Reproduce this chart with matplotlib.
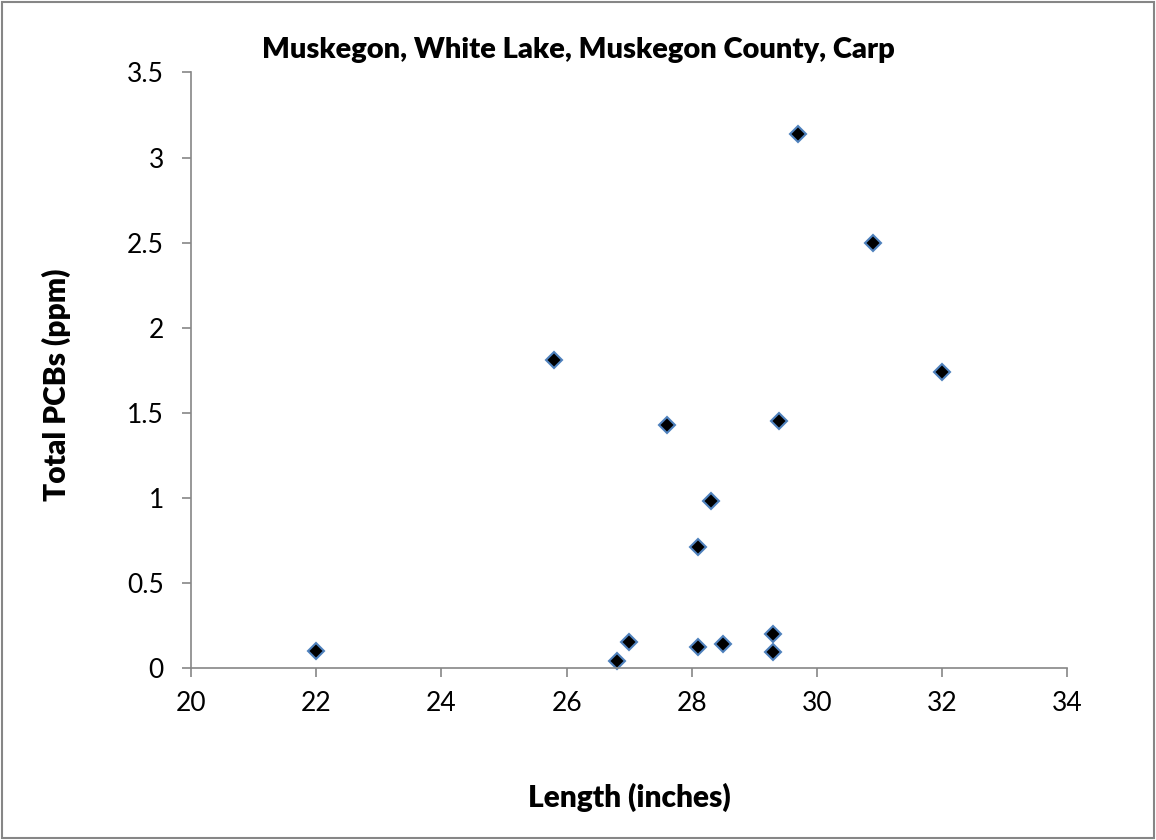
import matplotlib.pyplot as plt
from matplotlib.patches import Rectangle

length_in = [22.0, 25.8, 26.8, 27.0, 27.6, 28.1, 28.1, 28.3, 28.5, 29.3, 29.3, 29.4, 29.7, 30.9, 32.0]
pcbs_ppm = [0.10, 1.81, 0.04, 0.15, 1.43, 0.71, 0.12, 0.98, 0.14, 0.20, 0.09, 1.45, 3.14, 2.50, 1.74]
x_ticks = [20, 22, 24, 26, 28, 30, 32, 34]
y_ticks = [0, 0.5, 1, 1.5, 2, 2.5, 3, 3.5]
y_tick_labels = ['0', '0.5', '1', '1.5', '2', '2.5', '3', '3.5']

plt.rcParams['font.family'] = ['Lato', 'DejaVu Sans']
axis_gray = '#868686'

fig = plt.figure(figsize=(11.56, 8.4), dpi=100)
ax = fig.add_axes([0.1652, 0.2051, 0.7582, 0.7086])

ax.plot(length_in, pcbs_ppm, linestyle='none', marker='D', markersize=8.5,
        markerfacecolor='black', markeredgecolor='#4F81BD', markeredgewidth=1.5,
        clip_on=False)

ax.set_xlim(20, 34)
ax.set_ylim(0, 3.5)
ax.set_xticks(x_ticks)
ax.set_yticks(y_ticks)
ax.set_yticklabels(y_tick_labels)
ax.tick_params(direction='out', length=6.5, width=1.2, color=axis_gray,
               labelsize=19, pad=13)
ax.tick_params(axis='x', pad=10)

for side in ['top', 'right']:
    ax.spines[side].set_visible(False)
for side in ['left', 'bottom']:
    ax.spines[side].set_color(axis_gray)
    ax.spines[side].set_linewidth(1.2)

fig.text(0.5, 0.94, 'Muskegon, White Lake, Muskegon County, Carp',
         ha='center', va='center', fontsize=21, fontweight='heavy')
fig.text(0.5443, 0.051, 'Length (inches)', ha='center', va='center',
         fontsize=21.5, fontweight='heavy')
fig.text(0.049, 0.542, 'Total PCBs (ppm)', ha='center', va='center',
         rotation=90, fontsize=21.5, fontweight='heavy')

fig.patches.append(Rectangle((0.002, 0.002), 0.996, 0.996, transform=fig.transFigure,
                             fill=False, edgecolor=axis_gray, linewidth=1.5))

fig.savefig('out.png', dpi=100)
